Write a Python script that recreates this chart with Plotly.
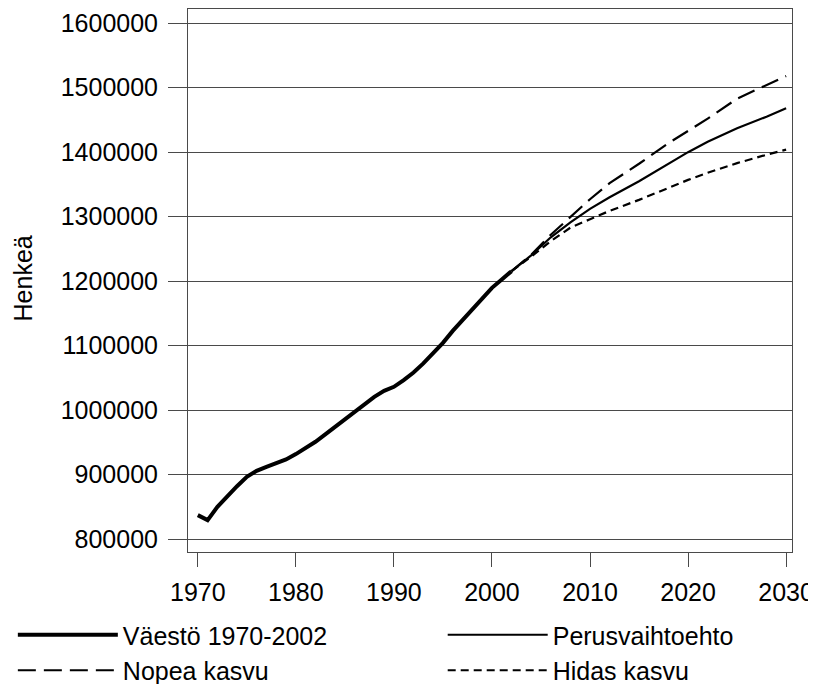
import plotly.graph_objects as go

# Historical population 1970-2002
hist_years = list(range(1970, 2003))
hist_pop = [
    837200, 829500, 850000, 866700, 882000, 896600, 905900, 912100, 917300, 923500,
    931800, 940600, 950900, 962300, 974100, 984500, 996400, 1007800, 1020600, 1029900,
    1036100, 1046500, 1058400, 1072400, 1087900, 1104300, 1122900, 1139500, 1157600,
    1174100, 1189600, 1202600, 1215500,
]

# Projections 2002-2030
proj_years = [2002, 2004, 2006, 2008, 2010, 2012, 2015, 2018, 2020, 2022, 2025, 2028, 2030]
perus = [1215500, 1240000, 1268000, 1291000, 1312000, 1330000, 1355000, 1382000,
         1400000, 1416000, 1437000, 1455000, 1468000]
nopea = [1215500, 1241000, 1272000, 1300000, 1327000, 1352000, 1382000, 1414000,
         1433000, 1452000, 1483000, 1504000, 1518000]
hidas = [1215500, 1238000, 1262000, 1283000, 1296000, 1309000, 1326000, 1345000,
         1357000, 1368000, 1383000, 1396000, 1404000]

y_ticks = [800000, 900000, 1000000, 1100000, 1200000, 1300000, 1400000, 1500000, 1600000]
x_ticks = [1970, 1980, 1990, 2000, 2010, 2020, 2030]

FONT = "Arial, Liberation Sans, sans-serif"
GRID = "#4a4a4a"

# the page body has an 8px default margin, so the figure is sized to fit inside it
W, H = 808, 676

fig = go.Figure()

# left legend column: Väestö + Nopea, right column: Perus + Hidas
fig.add_trace(go.Scatter(
    x=hist_years, y=hist_pop, mode="lines", name="Väestö 1970-2002",
    line={"color": "black", "width": 4}, legend="legend",
))
fig.add_trace(go.Scatter(
    x=proj_years, y=perus, mode="lines", name="Perusvaihtoehto",
    line={"color": "black", "width": 2.2}, legend="legend2",
))
fig.add_trace(go.Scatter(
    x=proj_years, y=nopea, mode="lines", name="Nopea kasvu",
    line={"color": "black", "width": 2.2, "dash": "18px,8px"}, legend="legend",
))
fig.add_trace(go.Scatter(
    x=proj_years, y=hidas, mode="lines", name="Hidas kasvu",
    line={"color": "black", "width": 2.2, "dash": "8px,5px"}, legend="legend2",
))

legend_common = {
    "orientation": "v",
    "xref": "container",
    "yref": "container",
    "y": 0.1065,
    "xanchor": "left",
    "yanchor": "top",
    "itemwidth": 100,
    "tracegroupgap": 0,
    "traceorder": "normal",
    "font": {"family": FONT, "size": 25},
    "bgcolor": "rgba(0,0,0,0)",
}

fig.update_layout(
    width=W,
    height=H,
    margin={"l": 180, "r": 24, "t": 1, "b": 132, "autoexpand": False},
    plot_bgcolor="white",
    paper_bgcolor="white",
    font={"family": FONT, "size": 25, "color": "black"},
    showlegend=True,
    legend={**legend_common, "x": 0.006},
    legend2={**legend_common, "x": 0.538},
)

# y-axis title as a rotated annotation (axis automargin is off)
fig.add_annotation(
    text="Henkeä",
    xref="paper", yref="paper",
    x=-0.273, y=0.504,
    xanchor="center", yanchor="middle",
    textangle=-90,
    showarrow=False,
    font={"family": FONT, "size": 25, "color": "black"},
)

fig.update_xaxes(
    range=[1969, 2030.6],
    tickvals=x_ticks,
    ticks="outside",
    ticklen=14,
    tickcolor=GRID,
    tickwidth=1,
    showgrid=False,
    zeroline=False,
    showline=True,
    linecolor=GRID,
    linewidth=1,
    mirror=True,
    ticklabelstandoff=4,
    tickfont={"family": FONT, "size": 25},
)
fig.update_yaxes(
    range=[780000, 1622000],
    tickvals=y_ticks,
    tickformat="d",
    ticks="outside",
    ticklen=19,
    tickcolor=GRID,
    tickwidth=1,
    showgrid=True,
    gridcolor=GRID,
    gridwidth=1,
    zeroline=False,
    showline=True,
    linecolor=GRID,
    linewidth=1,
    mirror=True,
    ticklabelstandoff=5,
    tickfont={"family": FONT, "size": 25},
)

fig.write_html("out.html")
